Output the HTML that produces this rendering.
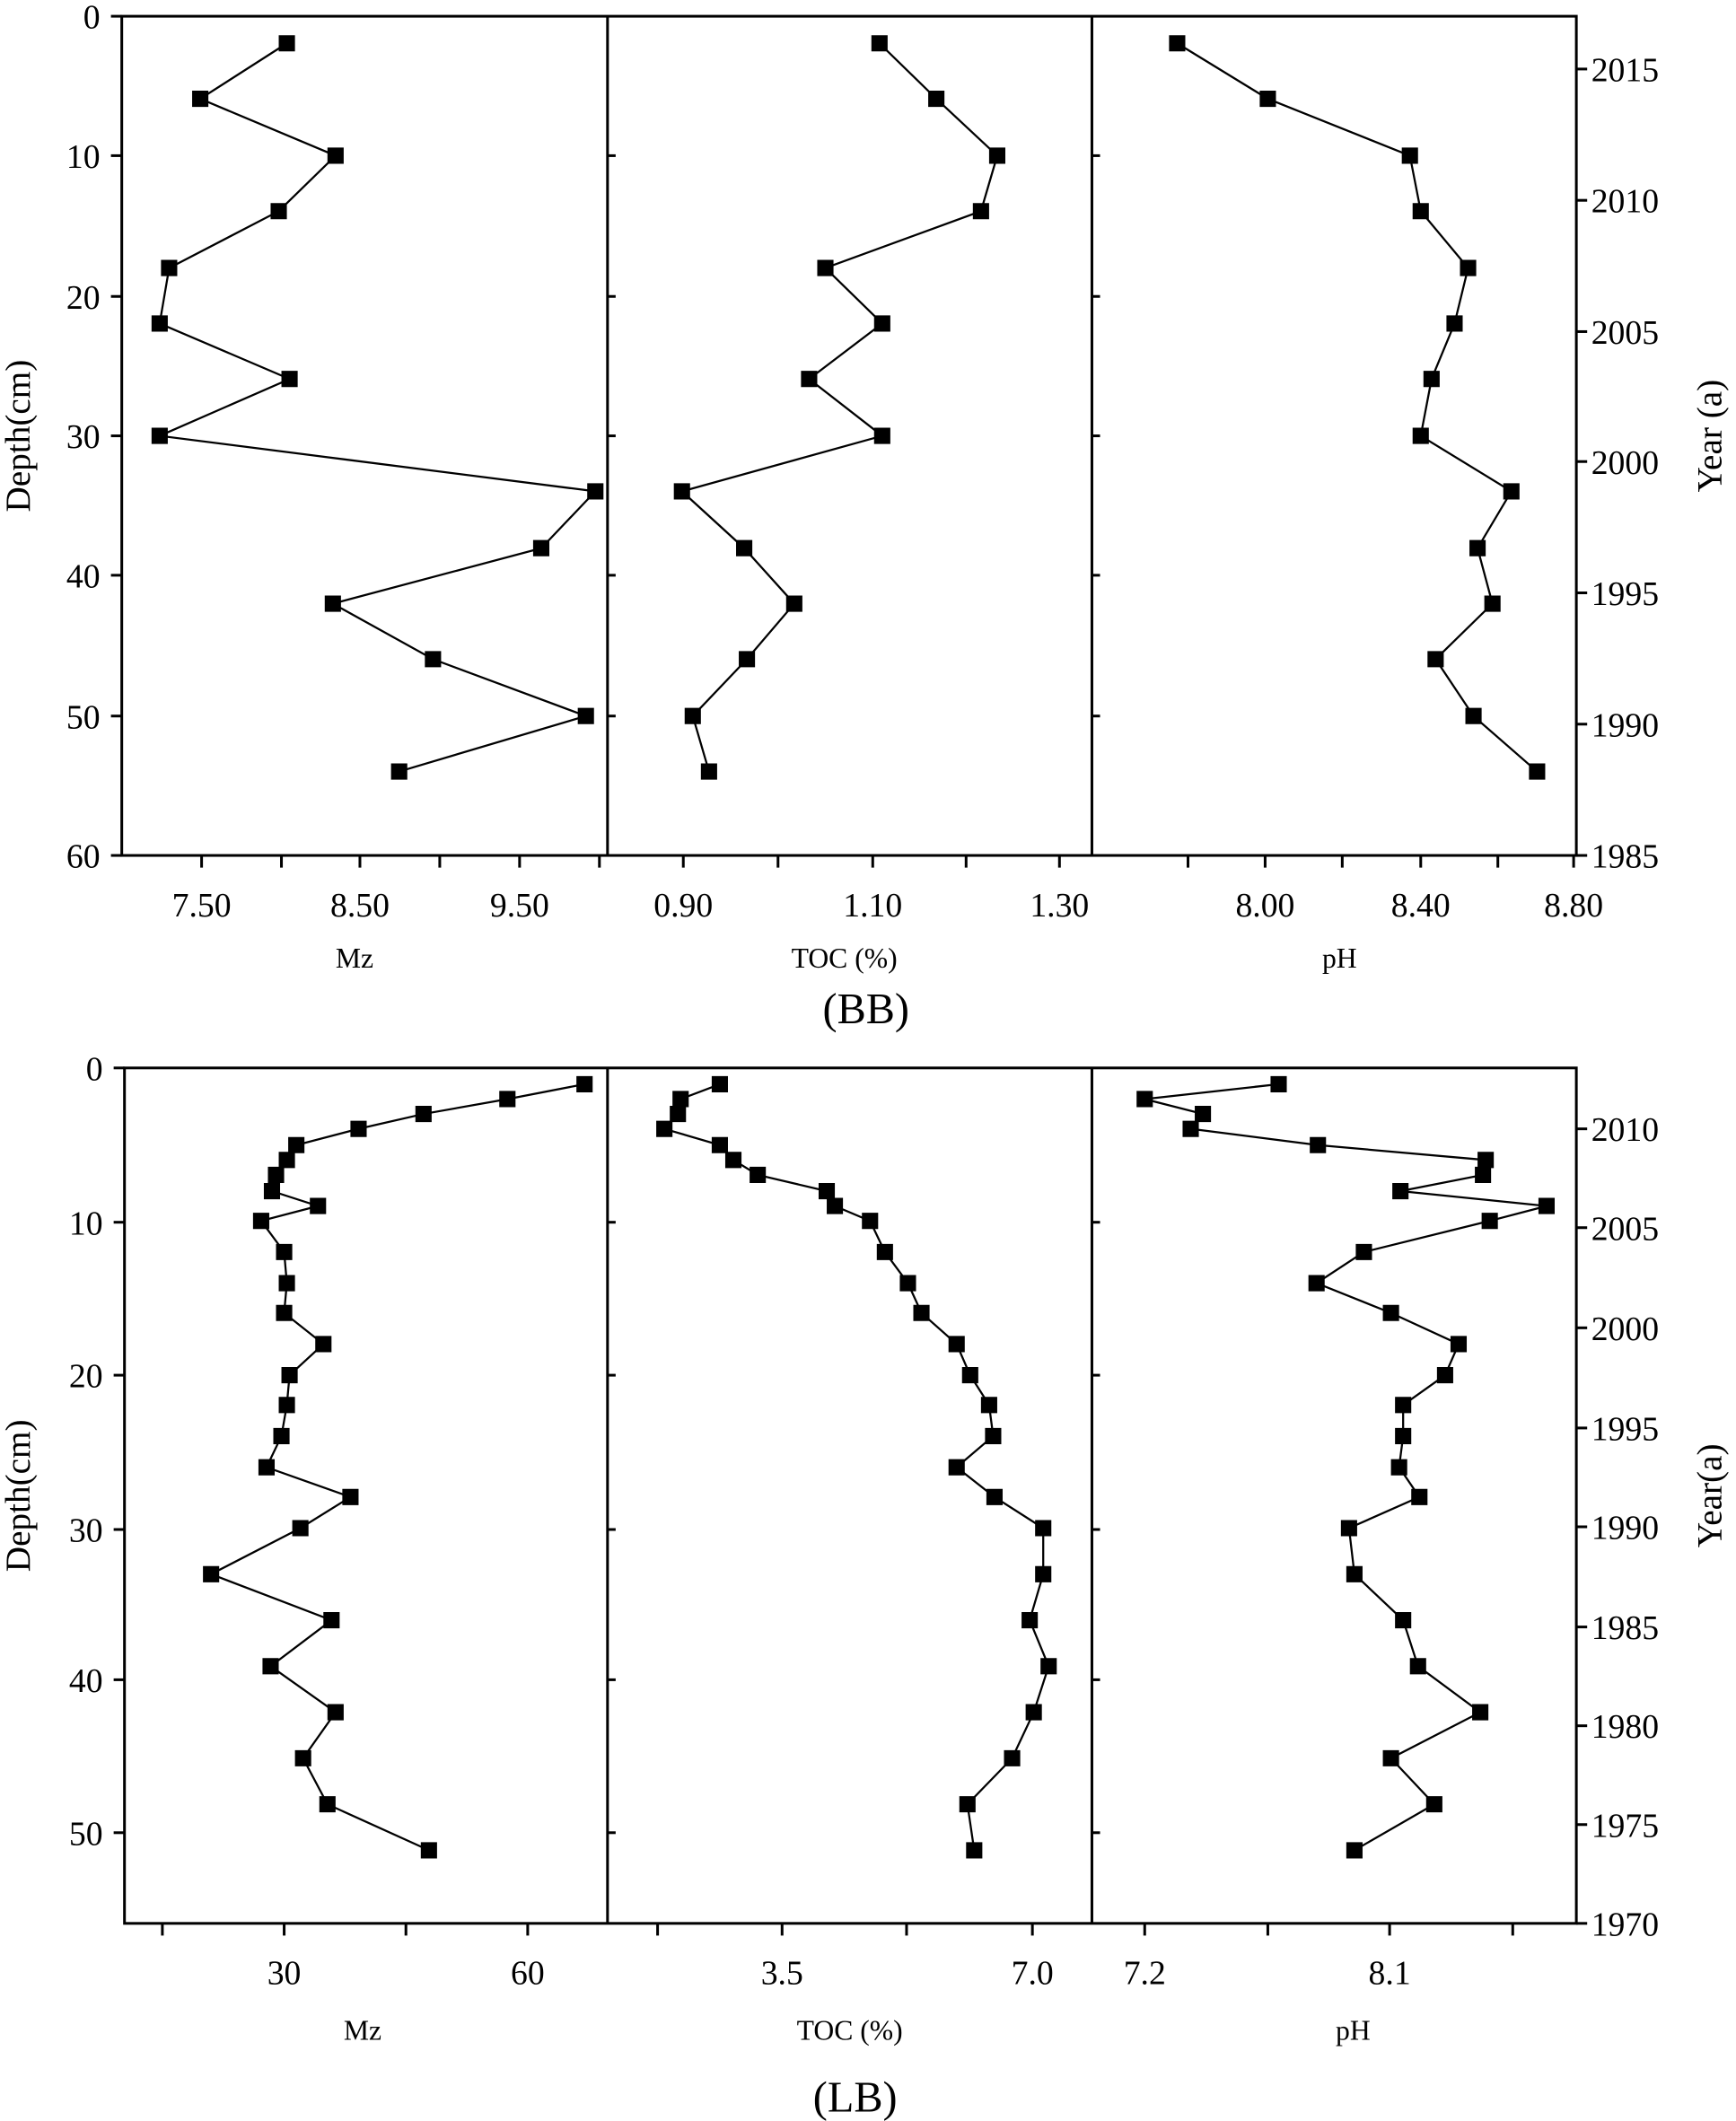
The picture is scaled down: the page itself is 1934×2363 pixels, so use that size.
<!DOCTYPE html>
<html><head><meta charset="utf-8"><style>html,body{margin:0;padding:0;background:#fff}svg{display:block}</style></head>
<body>
<svg width="1934" height="2363" viewBox="0 0 1283 1567" preserveAspectRatio="none" xmlns="http://www.w3.org/2000/svg" font-family="Liberation Serif, serif" fill="#000">
<rect width="1283" height="1567" fill="#fff"/>
<g stroke="#000" stroke-width="2" fill="none">
<rect x="90" y="12" width="1075" height="620"/>
<line x1="449" y1="12" x2="449" y2="632"/><line x1="807" y1="12" x2="807" y2="632"/>
<rect x="92" y="789" width="1073" height="632"/>
<line x1="449" y1="789" x2="449" y2="1421"/><line x1="807" y1="789" x2="807" y2="1421"/>
</g>
<g stroke="#000" stroke-width="2">
<!-- top left ticks -->
<line x1="82" y1="12" x2="90" y2="12"/><line x1="82" y1="115" x2="90" y2="115"/><line x1="82" y1="219" x2="90" y2="219"/><line x1="82" y1="322" x2="90" y2="322"/><line x1="82" y1="425" x2="90" y2="425"/><line x1="82" y1="529" x2="90" y2="529"/><line x1="82" y1="632" x2="90" y2="632"/>
<line x1="449" y1="115" x2="455" y2="115"/><line x1="449" y1="219" x2="455" y2="219"/><line x1="449" y1="322" x2="455" y2="322"/><line x1="449" y1="425" x2="455" y2="425"/><line x1="449" y1="529" x2="455" y2="529"/>
<line x1="807" y1="115" x2="813" y2="115"/><line x1="807" y1="219" x2="813" y2="219"/><line x1="807" y1="322" x2="813" y2="322"/><line x1="807" y1="425" x2="813" y2="425"/><line x1="807" y1="529" x2="813" y2="529"/>
<!-- top right ticks -->
<line x1="1165" y1="51" x2="1173" y2="51"/><line x1="1165" y1="148" x2="1173" y2="148"/><line x1="1165" y1="245" x2="1173" y2="245"/><line x1="1165" y1="341" x2="1173" y2="341"/><line x1="1165" y1="438" x2="1173" y2="438"/><line x1="1165" y1="535" x2="1173" y2="535"/><line x1="1165" y1="632" x2="1173" y2="632"/>
<!-- top bottom ticks -->
<line x1="149" y1="632" x2="149" y2="641"/><line x1="208" y1="632" x2="208" y2="641"/><line x1="266" y1="632" x2="266" y2="641"/><line x1="325" y1="632" x2="325" y2="641"/><line x1="384" y1="632" x2="384" y2="641"/><line x1="443" y1="632" x2="443" y2="641"/>
<line x1="505" y1="632" x2="505" y2="641"/><line x1="575" y1="632" x2="575" y2="641"/><line x1="645" y1="632" x2="645" y2="641"/><line x1="714" y1="632" x2="714" y2="641"/><line x1="783" y1="632" x2="783" y2="641"/>
<line x1="878" y1="632" x2="878" y2="641"/><line x1="935" y1="632" x2="935" y2="641"/><line x1="992" y1="632" x2="992" y2="641"/><line x1="1050" y1="632" x2="1050" y2="641"/><line x1="1107" y1="632" x2="1107" y2="641"/><line x1="1163" y1="632" x2="1163" y2="641"/>
<!-- bottom left ticks -->
<line x1="84" y1="789" x2="92" y2="789"/><line x1="84" y1="903" x2="92" y2="903"/><line x1="84" y1="1016" x2="92" y2="1016"/><line x1="84" y1="1130" x2="92" y2="1130"/><line x1="84" y1="1241" x2="92" y2="1241"/><line x1="84" y1="1354" x2="92" y2="1354"/>
<line x1="449" y1="903" x2="455" y2="903"/><line x1="449" y1="1016" x2="455" y2="1016"/><line x1="449" y1="1130" x2="455" y2="1130"/><line x1="449" y1="1241" x2="455" y2="1241"/><line x1="449" y1="1354" x2="455" y2="1354"/>
<line x1="807" y1="903" x2="813" y2="903"/><line x1="807" y1="1016" x2="813" y2="1016"/><line x1="807" y1="1130" x2="813" y2="1130"/><line x1="807" y1="1241" x2="813" y2="1241"/><line x1="807" y1="1354" x2="813" y2="1354"/>
<line x1="1165" y1="834" x2="1173" y2="834"/><line x1="1165" y1="907" x2="1173" y2="907"/><line x1="1165" y1="981" x2="1173" y2="981"/><line x1="1165" y1="1055" x2="1173" y2="1055"/><line x1="1165" y1="1128" x2="1173" y2="1128"/><line x1="1165" y1="1202" x2="1173" y2="1202"/><line x1="1165" y1="1275" x2="1173" y2="1275"/><line x1="1165" y1="1348" x2="1173" y2="1348"/><line x1="1165" y1="1421" x2="1173" y2="1421"/>
<line x1="120" y1="1421" x2="120" y2="1430"/><line x1="210" y1="1421" x2="210" y2="1430"/><line x1="300" y1="1421" x2="300" y2="1430"/><line x1="390" y1="1421" x2="390" y2="1430"/>
<line x1="486" y1="1421" x2="486" y2="1430"/><line x1="578" y1="1421" x2="578" y2="1430"/><line x1="670" y1="1421" x2="670" y2="1430"/><line x1="763" y1="1421" x2="763" y2="1430"/>
<line x1="846" y1="1421" x2="846" y2="1430"/><line x1="937" y1="1421" x2="937" y2="1430"/><line x1="1027" y1="1421" x2="1027" y2="1430"/><line x1="1118" y1="1421" x2="1118" y2="1430"/>
</g>
<g font-size="25" text-anchor="end">
<text x="74" y="21">0</text><text x="74" y="124">10</text><text x="74" y="228">20</text><text x="74" y="331">30</text><text x="74" y="434">40</text><text x="74" y="538">50</text><text x="74" y="641">60</text>
<text x="76" y="798">0</text><text x="76" y="912">10</text><text x="76" y="1025">20</text><text x="76" y="1139">30</text><text x="76" y="1250">40</text><text x="76" y="1363">50</text>
</g>
<g font-size="25" text-anchor="start">
<text x="1176" y="60">2015</text><text x="1176" y="157">2010</text><text x="1176" y="254">2005</text><text x="1176" y="350">2000</text><text x="1176" y="447">1995</text><text x="1176" y="544">1990</text><text x="1176" y="641">1985</text>
<text x="1176" y="843">2010</text><text x="1176" y="916">2005</text><text x="1176" y="990">2000</text><text x="1176" y="1064">1995</text><text x="1176" y="1137">1990</text><text x="1176" y="1211">1985</text><text x="1176" y="1284">1980</text><text x="1176" y="1357">1975</text><text x="1176" y="1430">1970</text>
</g>
<g font-size="25" text-anchor="middle">
<text x="149" y="677">7.50</text><text x="266" y="677">8.50</text><text x="384" y="677">9.50</text>
<text x="505" y="677">0.90</text><text x="645" y="677">1.10</text><text x="783" y="677">1.30</text>
<text x="935" y="677">8.00</text><text x="1050" y="677">8.40</text><text x="1163" y="677">8.80</text>
<text x="210" y="1466">30</text><text x="390" y="1466">60</text>
<text x="578" y="1466">3.5</text><text x="763" y="1466">7.0</text>
<text x="846" y="1466">7.2</text><text x="1027" y="1466">8.1</text>
</g>
<g font-size="21" text-anchor="middle">
<text x="262" y="715">Mz</text><text x="624" y="715">TOC (%)</text><text x="990" y="715">pH</text>
<text x="268" y="1507">Mz</text><text x="628" y="1507">TOC (%)</text><text x="1000" y="1507">pH</text>
</g>
<text x="640" y="756" font-size="32" text-anchor="middle">(BB)</text>
<text x="632" y="1560" font-size="32" text-anchor="middle">(LB)</text>
<g font-size="26" text-anchor="middle">
<text transform="translate(22,322) rotate(-90)">Depth(cm)</text>
<text transform="translate(1272,322) rotate(-90)">Year (a)</text>
<text transform="translate(22,1105) rotate(-90)">Depth(cm)</text>
<text transform="translate(1272,1105) rotate(-90)">Year(a)</text>
</g>
<g fill="none" stroke="#000" stroke-width="1.5">
<polyline points="212,32 148,73 248,115 206,156 125,198 118,239 214,280 118,322 440,363 400,405 246,446 320,487 433,529 295,570"/>
<polyline points="650,32 692,73 737,115 725,156 610,198 652,239 598,280 652,322 504,363 550,405 587,446 552,487 512,529 524,570"/>
<polyline points="870,32 937,73 1042,115 1050,156 1085,198 1075,239 1058,280 1050,322 1117,363 1092,405 1103,446 1061,487 1089,529 1136,570"/>
<polyline id="a" points="432,801 375,812 313,823 265,834 219,846 212,857 204,868 201,880 235,891 193,902 210,925 212,948 210,970 239,993 214,1016 212,1038 208,1061 197,1084 259,1106 222,1129 156,1163 245,1197 200,1231 248,1265 224,1299 242,1333 317,1367"/>
<polyline points="532,801 503,812 501,823 491,834 532,846 542,857 560,868 611,880 617,891 643,902 654,925 671,948 681,970 707,993 717,1016 731,1038 734,1061 707,1084 735,1106 771,1129 771,1163 761,1197 775,1231 764,1265 748,1299 715,1333 720,1367"/>
<polyline points="945,801 846,812 889,823 880,834 974,846 1098,857 1096,868 1035,880 1143,891 1101,902 1008,925 973,948 1028,970 1078,993 1068,1016 1037,1038 1037,1061 1034,1084 1049,1106 997,1129 1001,1163 1037,1197 1048,1231 1094,1265 1028,1299 1060,1333 1001,1367"/>
</g>
<g id="m">
<script>/*none*/</script>
</g>
<g fill="#000">
<path d="M206 26h12v12h-12zM142 67h12v12h-12zM242 109h12v12h-12zM200 150h12v12h-12zM119 192h12v12h-12zM112 233h12v12h-12zM208 274h12v12h-12zM112 316h12v12h-12zM434 357h12v12h-12zM394 399h12v12h-12zM240 440h12v12h-12zM314 481h12v12h-12zM427 523h12v12h-12zM289 564h12v12h-12z"/>
<path d="M644 26h12v12h-12zM686 67h12v12h-12zM731 109h12v12h-12zM719 150h12v12h-12zM604 192h12v12h-12zM646 233h12v12h-12zM592 274h12v12h-12zM646 316h12v12h-12zM498 357h12v12h-12zM544 399h12v12h-12zM581 440h12v12h-12zM546 481h12v12h-12zM506 523h12v12h-12zM518 564h12v12h-12z"/>
<path d="M864 26h12v12h-12zM931 67h12v12h-12zM1036 109h12v12h-12zM1044 150h12v12h-12zM1079 192h12v12h-12zM1069 233h12v12h-12zM1052 274h12v12h-12zM1044 316h12v12h-12zM1111 357h12v12h-12zM1086 399h12v12h-12zM1097 440h12v12h-12zM1055 481h12v12h-12zM1083 523h12v12h-12zM1130 564h12v12h-12z"/>
<path d="M426 795h12v12h-12zM369 806h12v12h-12zM307 817h12v12h-12zM259 828h12v12h-12zM213 840h12v12h-12zM206 851h12v12h-12zM198 862h12v12h-12zM195 874h12v12h-12zM229 885h12v12h-12zM187 896h12v12h-12zM204 919h12v12h-12zM206 942h12v12h-12zM204 964h12v12h-12zM233 987h12v12h-12zM208 1010h12v12h-12zM206 1032h12v12h-12zM202 1055h12v12h-12zM191 1078h12v12h-12zM253 1100h12v12h-12zM216 1123h12v12h-12zM150 1157h12v12h-12zM239 1191h12v12h-12zM194 1225h12v12h-12zM242 1259h12v12h-12zM218 1293h12v12h-12zM236 1327h12v12h-12zM311 1361h12v12h-12z"/>
<path d="M526 795h12v12h-12zM497 806h12v12h-12zM495 817h12v12h-12zM485 828h12v12h-12zM526 840h12v12h-12zM536 851h12v12h-12zM554 862h12v12h-12zM605 874h12v12h-12zM611 885h12v12h-12zM637 896h12v12h-12zM648 919h12v12h-12zM665 942h12v12h-12zM675 964h12v12h-12zM701 987h12v12h-12zM711 1010h12v12h-12zM725 1032h12v12h-12zM728 1055h12v12h-12zM701 1078h12v12h-12zM729 1100h12v12h-12zM765 1123h12v12h-12zM765 1157h12v12h-12zM755 1191h12v12h-12zM769 1225h12v12h-12zM758 1259h12v12h-12zM742 1293h12v12h-12zM709 1327h12v12h-12zM714 1361h12v12h-12z"/>
<path d="M939 795h12v12h-12zM840 806h12v12h-12zM883 817h12v12h-12zM874 828h12v12h-12zM968 840h12v12h-12zM1092 851h12v12h-12zM1090 862h12v12h-12zM1029 874h12v12h-12zM1137 885h12v12h-12zM1095 896h12v12h-12zM1002 919h12v12h-12zM967 942h12v12h-12zM1022 964h12v12h-12zM1072 987h12v12h-12zM1062 1010h12v12h-12zM1031 1032h12v12h-12zM1031 1055h12v12h-12zM1028 1078h12v12h-12zM1043 1100h12v12h-12zM991 1123h12v12h-12zM995 1157h12v12h-12zM1031 1191h12v12h-12zM1042 1225h12v12h-12zM1088 1259h12v12h-12zM1022 1293h12v12h-12zM1054 1327h12v12h-12zM995 1361h12v12h-12z"/>
</g>
</svg>
</body></html>
